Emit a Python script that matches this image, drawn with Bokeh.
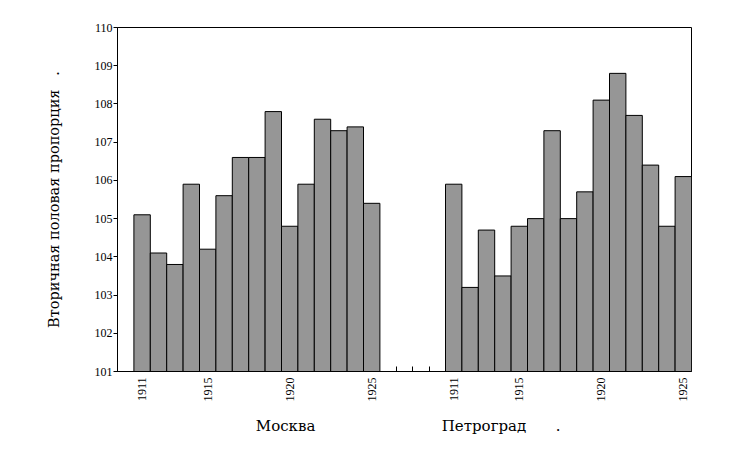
import math
from bokeh.plotting import figure
from bokeh.models import Range1d, FixedTicker, LinearAxis
from bokeh.embed import file_html
from bokeh.resources import INLINE

# ---- data ----
years = list(range(1911, 1926))
moscow = [105.1, 104.1, 103.8, 105.9, 104.2, 105.6, 106.6, 106.6, 107.8,
          104.8, 105.9, 107.6, 107.3, 107.4, 105.4]
petrograd = [105.9, 103.2, 104.7, 103.5, 104.8, 105.0, 107.3, 105.0, 105.7,
             108.1, 108.8, 107.7, 106.4, 104.8, 106.1]
cities = ["Москва", "Петроград"]
year_labels = [1911, 1915, 1920, 1925]
y_ticks = list(range(101, 111))
y_label = "Вторичная половая пропорция"

# ---- layout of slots ----
gap = 4
starts = [1, 1 + len(years) + gap]
x_end = starts[1] + len(years)
Y0, Y1 = y_ticks[0], y_ticks[-1]

SERIF = "DejaVu Serif"
TICKF = "Liberation Serif"

p = figure(width=742, height=453, output_backend="svg", toolbar_location=None,
           x_range=Range1d(0, x_end), y_range=Range1d(Y0, Y1),
           min_border_left=117, min_border_right=51, min_border_top=27,
           min_border_bottom=82, x_axis_type=None)
p.background_fill_color = "white"
p.border_fill_color = "white"
p.outline_line_color = "black"
p.outline_line_width = 1
p.grid.visible = False

for start, vals in zip(starts, [moscow, petrograd]):
    xs = [start + i + 0.5 for i in range(len(vals))]
    p.vbar(x=xs, width=1, top=vals, bottom=Y0, fill_color="#969696",
           line_color="black", line_width=1)

# y axis
ya = p.yaxis[0]
ya.ticker = FixedTicker(ticks=y_ticks, minor_ticks=[])
ya.major_tick_in = 0
ya.major_tick_out = 4
ya.major_tick_line_color = "black"
ya.axis_line_color = "black"
ya.major_label_standoff = 1
ya.major_label_text_font = TICKF
ya.major_label_text_font_size = "12px"
ya.major_label_text_color = "black"
ya.axis_label = y_label + "\u00a0\u00a0\u00a0."
ya.axis_label_text_font = SERIF
ya.axis_label_text_font_size = "14.5px"
ya.axis_label_text_font_style = "normal"
ya.axis_label_text_color = "black"
ya.axis_label_standoff = 30

# x axis with years
ticks = []
overrides = {}
for start in starts:
    for y in year_labels:
        t = start + (y - years[0]) + 0.5
        ticks.append(t)
        overrides[t] = str(y)
gap_ticks = list(range(starts[0] + len(years) + 1, starts[1]))
xa = LinearAxis(ticker=FixedTicker(ticks=ticks, minor_ticks=gap_ticks))
xa.major_label_overrides = overrides
xa.major_label_orientation = math.pi / 2
xa.major_tick_in = 0
xa.major_tick_out = 0
xa.minor_tick_in = 5
xa.minor_tick_out = 0
xa.minor_tick_line_color = "black"
xa.axis_line_color = "black"
xa.major_label_standoff = 6
xa.major_label_text_font = TICKF
xa.major_label_text_font_size = "12px"
xa.major_label_text_color = "black"
p.add_layout(xa, "below")

# group label axis
grp_pos = [10.25, 22.35, 26.87]
grp_txt = [cities[0], cities[1], "."]
ga = LinearAxis(ticker=FixedTicker(ticks=grp_pos, minor_ticks=[]))
ga.major_label_overrides = dict(zip(grp_pos, grp_txt))
ga.axis_line_color = None
ga.major_tick_line_color = None
ga.minor_tick_line_color = None
ga.major_tick_in = 0
ga.major_tick_out = 0
ga.major_label_standoff = 12
ga.major_label_text_font = SERIF
ga.major_label_text_font_size = "15px"
ga.major_label_text_color = "black"
p.add_layout(ga, "below")

open("out.html", "w").write(file_html(p, INLINE))
